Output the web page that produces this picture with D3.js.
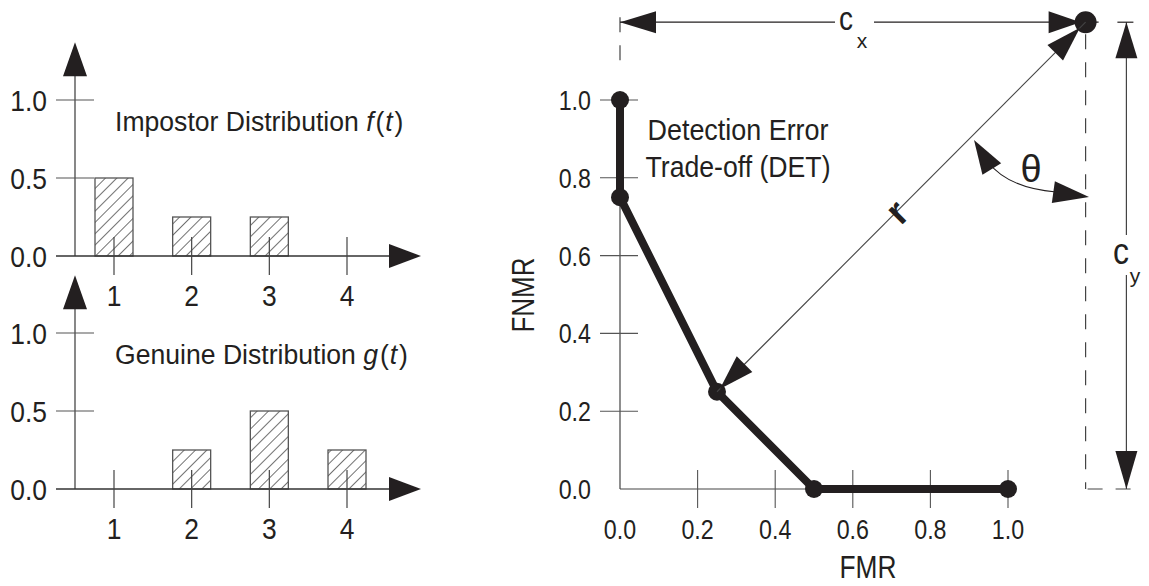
<!DOCTYPE html>
<html>
<head>
<meta charset="utf-8">
<script src="https://cdn.jsdelivr.net/npm/d3@7"></script>
<style>
  body { margin: 0; background: #fff; }
  svg { display: block; }
  text { font-family: "Liberation Sans", Arial, sans-serif; fill: #231f20; }
</style>
</head>
<body>
<svg id="chart"></svg>
<script>
var width = 1149;
var height = 586;

// distributions (left panels)
var scores = [1, 2, 3, 4];
var impostor = [0.5, 0.25, 0.25, 0];
var genuine = [0, 0.25, 0.5, 0.25];
var distTicks = [0.0, 0.5, 1.0];

// DET curve (right panel)
var fmr = [0, 0, 0.25, 0.5, 1];
var fnmr = [1, 0.75, 0.25, 0, 0];
var detTicks = [0.0, 0.2, 0.4, 0.6, 0.8, 1.0];
var corner = [1.2, 1.2];   // (cx, cy) point
var cyDimX = 1.3;          // x of the cy dimension line

var ink = '#231f20';
var axisCol = '#555';

var svg = d3.select('#chart')
    .attr('width', width)
    .attr('height', height);

// hatch pattern for the bars
svg.append('defs')
  .append('pattern')
    .attr('id', 'hatch')
    .attr('patternUnits', 'userSpaceOnUse')
    .attr('width', 8)
    .attr('height', 8)
    .attr('patternTransform', 'rotate(45)')
  .append('line')
    .attr('x1', 0).attr('y1', 0)
    .attr('x2', 0).attr('y2', 8)
    .attr('stroke', '#111')
    .attr('stroke-width', 1.2);

function arrowHead(g, tx, ty, dx, dy, len, hw) {
    var n = Math.sqrt(dx * dx + dy * dy);
    dx /= n; dy /= n;
    var bx = tx - dx * len, by = ty - dy * len;
    var pts = [[tx, ty], [bx - dy * hw, by + dx * hw], [bx + dy * hw, by - dx * hw]];
    g.append('polygon')
        .attr('points', pts.map(p => p.join(',')).join(' '))
        .attr('fill', ink);
}

// squeeze text horizontally (the original uses a condensed face)
function condense(sel, factor) {
    sel.each(function() {
        var w = this.getComputedTextLength();
        d3.select(this)
            .attr('textLength', w * factor)
            .attr('lengthAdjust', 'spacingAndGlyphs');
    });
}
function fitWidth(sel, w) {
    sel.attr('textLength', w).attr('lengthAdjust', 'spacingAndGlyphs');
}

var xL = d3.scaleLinear().domain([1, 4]).range([114, 347]);

// one distribution panel
function distPanel(values, baseY, title, fn) {
    var y = d3.scaleLinear().domain([0, 1]).range([baseY, baseY - 156]);
    var g = svg.append('g');
    var axisX = 75;

    // bars
    g.selectAll('.bar')
        .data(scores.map((s, i) => ({ s: s, v: values[i] })).filter(d => d.v > 0))
        .enter()
        .append('rect')
            .attr('x', d => xL(d.s) - 19)
            .attr('y', d => y(d.v))
            .attr('width', 38)
            .attr('height', d => y(0) - y(d.v))
            .attr('fill', 'url(#hatch)')
            .attr('stroke', '#555')
            .attr('stroke-width', 1.3);

    // y axis
    g.append('line')
        .attr('x1', axisX).attr('x2', axisX)
        .attr('y1', y(0)).attr('y2', y(1.3))
        .attr('stroke', axisCol).attr('stroke-width', 1.4);
    arrowHead(g, axisX, y(1.37), 0, -1, 34, 12);

    // x axis
    g.append('line')
        .attr('x1', 56).attr('x2', 400)
        .attr('y1', y(0)).attr('y2', y(0))
        .attr('stroke', '#333').attr('stroke-width', 1.4);
    arrowHead(g, 421, y(0), 1, 0, 32, 12);

    // y ticks + labels
    g.selectAll('.ytick')
        .data(distTicks.filter(d => d > 0))
        .enter()
        .append('line')
            .attr('x1', 56).attr('x2', 94)
            .attr('y1', d => y(d)).attr('y2', d => y(d))
            .attr('stroke', axisCol).attr('stroke-width', 1.2);
    var yl = g.selectAll('.ylab')
        .data(distTicks)
        .enter()
        .append('text')
            .attr('x', 47)
            .attr('y', d => y(d) + 10.5)
            .attr('text-anchor', 'end')
            .attr('font-size', 29)
            .text(d3.format('.1f'));
    condense(yl, 0.91);

    // x ticks + labels
    g.selectAll('.xtick')
        .data(scores)
        .enter()
        .append('line')
            .attr('x1', d => xL(d)).attr('x2', d => xL(d))
            .attr('y1', y(0) - 19).attr('y2', y(0) + 19)
            .attr('stroke', '#444').attr('stroke-width', 1.2);
    var xl = g.selectAll('.xlab')
        .data(scores)
        .enter()
        .append('text')
            .attr('x', d => xL(d))
            .attr('y', y(0) + 50)
            .attr('text-anchor', 'middle')
            .attr('font-size', 29)
            .text(d => d);
    condense(xl, 0.91);

    // title, squeezed a little with a transform so the italic parts stay separate
    var t = g.append('text')
        .attr('transform', `translate(115, ${baseY - 125}) scale(0.95, 1)`)
        .attr('font-size', 28);
    t.append('tspan').text(title + ' ');
    t.append('tspan').attr('font-style', 'italic').text(fn);
    t.append('tspan').attr('dx', 2).text('(');
    t.append('tspan').attr('font-style', 'italic').attr('dx', 1).text('t');
    t.append('tspan').attr('dx', 2).text(')');
}

distPanel(impostor, 256, 'Impostor Distribution', 'f');
distPanel(genuine, 489, 'Genuine Distribution', 'g');

// ---------- DET panel ----------
var xR = d3.scaleLinear().domain([0, 1]).range([620, 1008]);
var yR = d3.scaleLinear().domain([0, 1]).range([489, 100]);
var det = svg.append('g');

// axes
det.append('line')
    .attr('x1', xR(0)).attr('x2', xR(0))
    .attr('y1', yR(0)).attr('y2', yR(1))
    .attr('stroke', '#444').attr('stroke-width', 1.2);
det.append('line')
    .attr('x1', xR(0)).attr('x2', xR(1))
    .attr('y1', yR(0)).attr('y2', yR(0))
    .attr('stroke', '#444').attr('stroke-width', 1.2);

det.selectAll('.ytick')
    .data(detTicks.filter(d => d > 0))
    .enter()
    .append('line')
        .attr('x1', xR(0) - 20).attr('x2', xR(0) + 18)
        .attr('y1', d => yR(d)).attr('y2', d => yR(d))
        .attr('stroke', '#555').attr('stroke-width', 1.1);
det.selectAll('.xtick')
    .data(detTicks.filter(d => d > 0))
    .enter()
    .append('line')
        .attr('x1', d => xR(d)).attr('x2', d => xR(d))
        .attr('y1', yR(0) - 19).attr('y2', yR(0) + 19)
        .attr('stroke', '#555').attr('stroke-width', 1.1);

var ryl = det.selectAll('.ylab')
    .data(detTicks)
    .enter()
    .append('text')
        .attr('x', 591)
        .attr('y', d => yR(d) + 10)
        .attr('text-anchor', 'end')
        .attr('font-size', 27)
        .text(d3.format('.1f'));
condense(ryl, 0.86);
var rxl = det.selectAll('.xlab')
    .data(detTicks)
    .enter()
    .append('text')
        .attr('x', d => xR(d))
        .attr('y', 539)
        .attr('text-anchor', 'middle')
        .attr('font-size', 27)
        .text(d3.format('.1f'));
condense(rxl, 0.86);

fitWidth(det.append('text')
    .attr('x', 868).attr('y', 578)
    .attr('text-anchor', 'middle')
    .attr('font-size', 31)
    .text('FMR'), 57);
fitWidth(det.append('text')
    .attr('transform', 'translate(534,295) rotate(-90)')
    .attr('text-anchor', 'middle')
    .attr('font-size', 31)
    .text('FNMR'), 75);

fitWidth(det.append('text')
    .attr('x', 738).attr('y', 140)
    .attr('text-anchor', 'middle')
    .attr('font-size', 30)
    .text('Detection Error'), 181);
fitWidth(det.append('text')
    .attr('x', 738).attr('y', 177)
    .attr('text-anchor', 'middle')
    .attr('font-size', 30)
    .text('Trade-off (DET)'), 185);

// DET curve
var detPts = fmr.map((f, i) => [f, fnmr[i]]);
det.append('path')
    .datum(detPts)
    .attr('d', d3.line().x(d => xR(d[0])).y(d => yR(d[1])))
    .attr('fill', 'none')
    .attr('stroke', ink)
    .attr('stroke-width', 8)
    .attr('stroke-linejoin', 'round');
det.selectAll('.pt')
    .data(detPts)
    .enter()
    .append('circle')
        .attr('cx', d => xR(d[0]))
        .attr('cy', d => yR(d[1]))
        .attr('r', 9)
        .attr('fill', ink);

// ---------- geometric annotation ----------
var cx = xR(corner[0]), cy = yR(corner[1]);
var dimX = xR(cyDimX) + 2;
var dash = '15,13';

// dashed guides
det.append('line')
    .attr('x1', xR(0)).attr('x2', xR(0))
    .attr('y1', cy - 5).attr('y2', cy + 43)
    .attr('stroke', '#444').attr('stroke-width', 1.2)
    .attr('stroke-dasharray', dash);
det.append('line')
    .attr('x1', cx).attr('x2', cx)
    .attr('y1', cy + 12).attr('y2', yR(0))
    .attr('stroke', '#444').attr('stroke-width', 1.2)
    .attr('stroke-dasharray', dash);
det.append('line')
    .attr('x1', cx + 2).attr('x2', dimX + 14)
    .attr('y1', yR(0)).attr('y2', yR(0))
    .attr('stroke', '#444').attr('stroke-width', 1.2)
    .attr('stroke-dasharray', dash);

// cx dimension
det.append('line')
    .attr('x1', xR(0)).attr('x2', cx + 13)
    .attr('y1', cy).attr('y2', cy)
    .attr('stroke', ink).attr('stroke-width', 1.2);
arrowHead(det, xR(0), cy, -1, 0, 36, 11);
arrowHead(det, cx - 5, cy, 1, 0, 32, 11);
det.append('rect')
    .attr('x', 835).attr('y', 4)
    .attr('width', 39).attr('height', 48)
    .attr('fill', '#fff');
fitWidth(det.append('text')
    .attr('x', 846).attr('y', 30)
    .attr('text-anchor', 'middle')
    .attr('font-size', 33)
    .text('c'), 14);
det.append('text')
    .attr('x', 862).attr('y', 48)
    .attr('text-anchor', 'middle')
    .attr('font-size', 21)
    .text('x');

// cy dimension
det.append('line')
    .attr('x1', dimX).attr('x2', dimX)
    .attr('y1', cy).attr('y2', yR(0))
    .attr('stroke', '#444').attr('stroke-width', 1.2);
det.append('line')
    .attr('x1', dimX - 9).attr('x2', dimX + 7)
    .attr('y1', cy).attr('y2', cy)
    .attr('stroke', ink).attr('stroke-width', 1.2);
arrowHead(det, dimX, cy, 0, -1, 36, 11);
arrowHead(det, dimX, yR(0), 0, 1, 38, 11);
det.append('rect')
    .attr('x', dimX - 20).attr('y', 235)
    .attr('width', 42).attr('height', 40)
    .attr('fill', '#fff');
fitWidth(det.append('text')
    .attr('x', 1121).attr('y', 264)
    .attr('text-anchor', 'middle')
    .attr('font-size', 37)
    .text('c'), 16);
det.append('text')
    .attr('x', 1135).attr('y', 283)
    .attr('text-anchor', 'middle')
    .attr('font-size', 21)
    .text('y');

// corner point
det.append('circle')
    .attr('cx', cx).attr('cy', cy)
    .attr('r', 11)
    .attr('fill', ink);

// r line
var px = xR(fmr[2]), py = yR(fnmr[2]);
det.append('line')
    .attr('x1', cx).attr('x2', px)
    .attr('y1', cy).attr('y2', py)
    .attr('stroke', '#444').attr('stroke-width', 1.1);
var ux = (cx - px), uy = (cy - py);
var ul = Math.sqrt(ux * ux + uy * uy);
ux /= ul; uy /= ul;
arrowHead(det, cx - ux * 8, cy - uy * 8, ux, uy, 35, 11);
arrowHead(det, px + ux * 4, py + uy * 4, -ux, -uy, 35, 11);
det.append('text')
    .attr('transform', 'translate(906,221) rotate(-45)')
    .attr('text-anchor', 'middle')
    .attr('font-size', 38)
    .attr('font-weight', 'bold')
    .text('r');

// theta arc
det.append('path')
    .attr('d', 'M988,162 Q1008,188 1056,192')
    .attr('fill', 'none')
    .attr('stroke', ink).attr('stroke-width', 1.1);
arrowHead(det, 974, 140, -16, -26, 34, 11);
arrowHead(det, 1089, 197, 36, 5, 36, 11);
det.append('text')
    .attr('x', 1031).attr('y', 182)
    .attr('text-anchor', 'middle')
    .attr('font-family', '"Liberation Serif", "DejaVu Serif", serif')
    .attr('font-size', 38)
    .text('θ');
</script>
</body>
</html>
